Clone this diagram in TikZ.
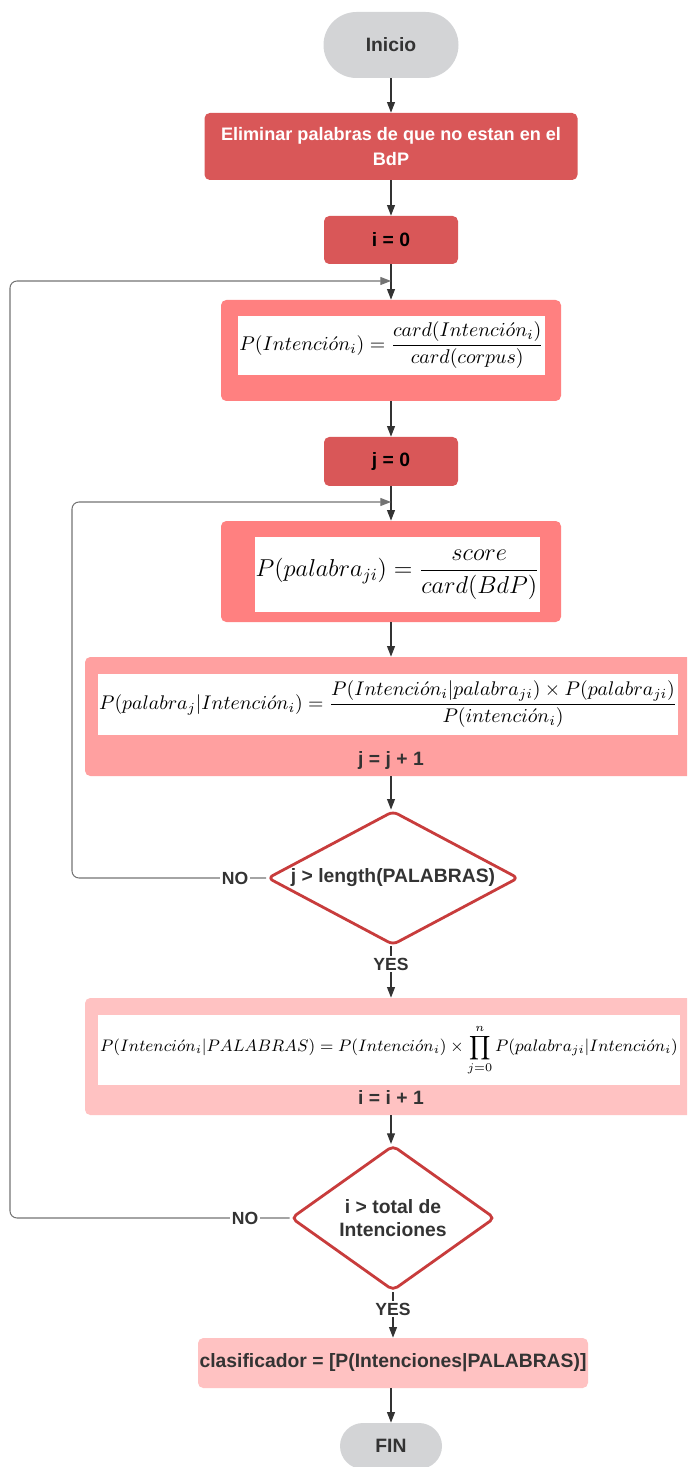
\RequirePackage{fix-cm}
\documentclass[tikz,border=0pt]{standalone}
\usepackage{amsmath}
\usepackage{amssymb}
\usepackage{xcolor}
\usepackage{fontspec}
\setmainfont{Liberation Sans}
\usetikzlibrary{shapes.geometric,arrows.meta}

\definecolor{gris}{RGB}{211,212,214}
\definecolor{rojo}{RGB}{217,87,88}
\definecolor{salmon}{RGB}{255,128,128}
\definecolor{rosa}{RGB}{255,160,160}
\definecolor{rosita}{RGB}{255,194,194}
\definecolor{borde}{RGB}{200,60,60}
\definecolor{texto}{RGB}{51,51,51}

\tikzset{
  flecha/.style={draw=texto, line width=0.6pt, -{Triangle[length=6pt,width=4.5pt]}},
  vuelta/.style={draw=black!55, line width=0.6pt, rounded corners=4pt, -{Triangle[length=6pt,width=4.5pt]}},
  terminal/.style={fill=gris, text=texto, font=\bfseries\fontsize{11}{13}\selectfont},
  paso/.style={fill=rojo, rounded corners=3pt, font=\bfseries\fontsize{11}{13}\selectfont},
  bloque/.style={rounded corners=3pt, minimum width=6.8cm, minimum height=2.02cm},
  ancho/.style={rounded corners=3pt, minimum width=12.24cm},
  formula/.style={fill=white, inner sep=0pt},
  decision/.style={diamond, draw=borde, line width=1.6pt, fill=white, rounded corners=3pt,
    text=texto, align=center, inner sep=0pt, font=\bfseries\fontsize{11}{13.5}\selectfont},
  etiqueta/.style={fill=white, text=texto, inner sep=1pt, font=\bfseries\fontsize{10}{12}\selectfont}
}

\begin{document}
\begin{tikzpicture}
\useasboundingbox (0,0) rectangle (13.74,-29.34);
\clip (0,0) rectangle (13.74,-29.34);

\node (inicio) at (7.82,-0.90) [terminal, minimum width=2.70cm, minimum height=1.32cm, rounded corners=0.66cm] {Inicio};
\node (elim) at (7.82,-2.93) [paso, text=white, minimum width=7.46cm, minimum height=1.34cm, align=center, font=\bfseries\fontsize{10.3}{14.5}\selectfont] {Eliminar palabras de que no estan en el\\BdP};
\node (i0) at (7.82,-4.80) [paso, minimum width=2.68cm, minimum height=0.96cm] {i = 0};
\node (pint) at (7.82,-7.01) [bloque, fill=salmon] {};
\node (fint) at (7.83,-6.91) [formula, minimum width=6.14cm, minimum height=1.18cm, font=\fontsize{11.3}{13}\selectfont] {$P(Intenci\acute{o}n_i)=\dfrac{card(Intenci\acute{o}n_i)}{card(corpus)}$};
\node (j0) at (7.82,-9.23) [paso, minimum width=2.68cm, minimum height=0.98cm] {j = 0};
\node (ppal) at (7.82,-11.43) [bloque, fill=salmon] {};
\node (fpal) at (7.95,-11.49) [formula, minimum width=5.70cm, minimum height=1.50cm, font=\fontsize{13.9}{17}\selectfont] {$P(palabra_{ji})=\dfrac{score}{card(BdP)}$};
\node (pcond) at (7.82,-14.33) [ancho, fill=rosa, minimum height=2.38cm] {};
\node (fcond) at (7.76,-14.09) [formula, minimum width=11.60cm, minimum height=1.22cm, font=\fontsize{11.25}{13}\selectfont] {$P(palabra_j|Intenci\acute{o}n_i)=\dfrac{P(Intenci\acute{o}n_i|palabra_{ji})\times P(palabra_{ji})}{P(intenci\acute{o}n_i)}$};
\node (jmas) at (7.82,-15.20) [text=texto, font=\bfseries\fontsize{11}{13}\selectfont] {j = j + 1};
\node (d1) at (7.86,-17.56) [decision, minimum width=5.02cm, minimum height=2.68cm] {\makebox[0pt]{j > length(PALABRAS)}};
\node (pfin) at (7.82,-21.13) [ancho, fill=rosita, minimum height=2.34cm] {};
\node (ffin) at (7.78,-21.00) [formula, minimum width=11.64cm, minimum height=1.40cm, font=\fontsize{9.5}{12}\selectfont] {$P(Intenci\acute{o}n_i|PALABRAS)=P(Intenci\acute{o}n_i)\times\displaystyle\prod_{j=0}^{n}P(palabra_{ji}|Intenci\acute{o}n_i)$};
\node (imas) at (7.82,-21.94) [text=texto, font=\bfseries\fontsize{11}{13}\selectfont] {i = i + 1};
\node (d2) at (7.86,-24.36) [decision, minimum width=4.08cm, minimum height=2.64cm] {i > total de\\Intenciones};
\node (clas) at (7.86,-27.26) [paso, fill=rosita, text=texto, inner xsep=0.5pt, minimum width=7.80cm, minimum height=1.00cm] {clasificador = [P(Intenciones|PALABRAS)]};
\node (fin) at (7.82,-28.92) [terminal, minimum width=2.04cm, minimum height=0.92cm, rounded corners=0.46cm] {FIN};

\coordinate (iin) at (7.82,-5.62);
\coordinate (jin) at (7.82,-10.04);
\coordinate (cj) at (1.44,-10.04);
\coordinate (ci) at (0.20,-5.62);

\draw [flecha] (inicio) -- (elim);
\draw [flecha] (elim) -- (i0);
\draw [flecha] (i0) -- (pint);
\draw [flecha] (pint) -- (j0);
\draw [flecha] (j0) -- (ppal);
\draw [flecha] (ppal) -- (pcond);
\draw [flecha] (pcond.south) -- (pcond.south |- d1.north);
\draw [flecha] (d1.south -| pfin.north) -- (pfin.north) node[pos=0.35, etiqueta] {YES};
\draw [flecha] (pfin.south) -- (pfin.south |- d2.north);
\draw [flecha] (d2.south) -- (d2.south |- clas.north) node[pos=0.38, etiqueta] {YES};
\draw [flecha] (clas.south -| fin.north) -- (fin.north);
\draw [vuelta] (d1.west) -| (cj) -- (jin);
\draw [vuelta] (d2.west) -| (ci) -- (iin);
\node (no1) at (4.70,-17.56) [etiqueta] {NO};
\node (no2) at (4.90,-24.36) [etiqueta] {NO};
\end{tikzpicture}
\end{document}
